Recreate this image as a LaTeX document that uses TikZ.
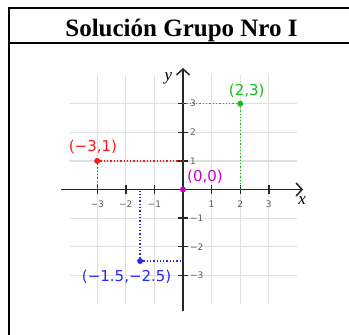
\documentclass[tikz,border=0pt]{standalone}
\usepackage{fontspec}
\setmainfont{Liberation Serif}
\newfontfamily\plotsans{DejaVu Sans}
\usetikzlibrary{arrows.meta}
\definecolor{ptred}{RGB}{255,20,20}
\definecolor{ptgreen}{RGB}{20,190,20}
\definecolor{ptmag}{RGB}{200,0,200}
\definecolor{ptblue}{RGB}{40,40,255}
\begin{document}
\begin{tikzpicture}[x=1pt,y=1pt,
  frameln/.style={line width=2pt,black},
  gridln/.style={black!12,line width=1.2pt},
  axisln/.style={line width=1.7pt,black!85,-{Straight Barb[length=6pt,width=13pt,line width=1.5pt]}},
  tickln/.style={line width=1.4pt,black!85},
  ticklab/.style={font=\plotsans\fontsize{9}{10}\selectfont,text=black!65,inner sep=0pt},
  ptlab/.style={font=\plotsans\fontsize{15}{17}\selectfont,inner sep=0pt},
  dotln/.style={dotted,line width=1.3pt},
  dot/.style={circle,fill,inner sep=0pt,minimum size=6pt}]
\useasboundingbox (0,0) rectangle (349,-335);
% table frame
\draw[frameln] (9,-335) -- (9,-8) -- (349,-8);
\draw[frameln] (9,-43.3) -- (349,-43.3);
\node[font=\fontsize{25}{30}\selectfont\bfseries,anchor=base] (title) at (181.5,-36) {Solución Grupo Nro I};
\begin{scope}[shift={(183,-189.5)},x=28.6pt,y=28.6pt]
% grid
\foreach \i in {-3,-2,-1,1,2,3} {
  \draw[gridln] (\i,-4) -- (\i,4);
  \draw[gridln] (-4,\i) -- (4,\i);
}
% axes
\draw[axisln] (-4.25,0) -- (4.2,0);
\draw[axisln] (0,-4.25) -- (0,4.25);
\node[font=\fontsize{17}{18}\selectfont\itshape] (xlab) at (4.17,-0.39) {x};
\node[font=\fontsize{17}{18}\selectfont\itshape] (ylab) at (-0.51,3.89) {y};
% ticks
\foreach \i/\t in {-3/−3,-2/−2,-1/−1,1/1,2/2,3/3} {
  \draw[tickln] (\i,-0.16) -- (\i,0.16);
  \draw[tickln] (-0.17,\i) -- (0.17,\i);
  \node[ticklab] (xt\i) at (\i,-0.5) {\t};
  \node[ticklab,anchor=west] (yt\i) at (0.24,\i) {\t};
}
% points
\node[dot,ptred] (pa) at (-3,1) {};
\node[dot,ptgreen] (pb) at (2,3) {};
\node[dot,ptblue] (pc) at (-1.5,-2.5) {};
\coordinate (pax) at (-3,0); \coordinate (pay) at (0,1);
\coordinate (pbx) at (2,0); \coordinate (pby) at (0,3);
\coordinate (pcx) at (-1.5,0); \coordinate (pcy) at (0,-2.5);
\draw[dotln,ptred] (pa) -- (pay); \draw[dotln,ptred] (pa) -- (pax);
\draw[dotln,ptgreen] (pb) -- (pby); \draw[dotln,ptgreen] (pb) -- (pbx);
\draw[dotln,ptblue] (pc) -- (pcy); \draw[dotln,ptblue] (pc) -- (pcx);
\node[dot,ptmag] (po) at (0,0) {};
\node[ptlab,text=ptred] (la) at (-3.15,1.49) {(−3,1)};
\node[ptlab,text=ptgreen] (lb) at (2.23,3.45) {(2,3)};
\node[ptlab,text=ptmag] (lo) at (0.77,0.43) {(0,0)};
\node[ptlab,text=ptblue] (lc) at (-1.97,-3.05) {(−1.5,−2.5)};
\end{scope}
\end{tikzpicture}
\end{document}
